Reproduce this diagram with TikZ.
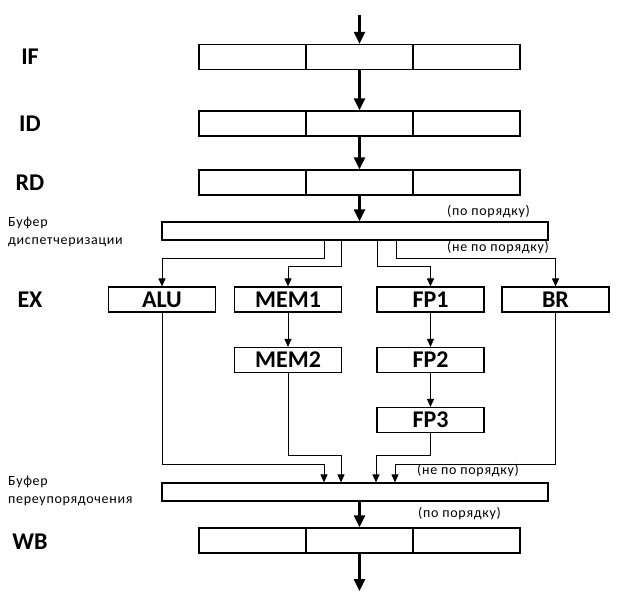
\documentclass[tikz,border=0pt]{standalone}
\usepackage{fontspec}
\setmainfont{Carlito}
\newfontfamily\notefont[LetterSpace=5]{Carlito}
\usetikzlibrary{arrows.meta,positioning}
\tikzset{
	cell/.style={draw, line width=1.2pt, minimum width=107pt, minimum height=25pt, inner sep=0pt},
	unit/.style={cell, font=\fontsize{24}{24}\selectfont\bfseries},
	buffer/.style={draw, line width=1.2pt, minimum width=386pt, minimum height=18pt, inner sep=0pt},
	stage/.style={font=\fontsize{24}{24}\selectfont\bfseries},
	note/.style={font=\notefont\fontsize{14}{18}\selectfont, inner sep=0pt, align=left},
	bigarrow/.style={line width=2.5pt, -{Triangle[length=12pt,width=11pt]}},
	smallarrow/.style={line width=1pt, -{Triangle[length=8pt,width=7pt]}}
}

\begin{document}
\begin{tikzpicture}[x=1pt,y=-1pt]
	\useasboundingbox (0,0) rectangle (623,606);
	% Pipeline rows
	\foreach \name/\y in {if/57, id/123.5, rd/182.5, wb/540.5} {
		\node[cell] (\name1) at (252.5,\y) {};
		\node[cell] (\name2) at (359.5,\y) {};
		\node[cell] (\name3) at (466.5,\y) {};
	}
	% Stage names
	\node[stage] (lif) at (30,57) {IF};
	\node[stage] (lid) at (30,123.5) {ID};
	\node[stage] (lrd) at (30,183) {RD};
	\node[stage] (lex) at (30,299.5) {EX};
	\node[stage] (lwb) at (30,542) {WB};
	% Buffers
	\node[buffer] (disp) at (355,231) {};
	\node[buffer] (reord) at (355,492) {};
	\node[note, anchor=west] (ldisp) at (8,231.5) {Буфер\\диспетчеризации};
	\node[note, anchor=west] (lreord) at (8,490.5) {Буфер\\переупорядочения};
	\node[note, anchor=west] (inord1) at (447,212) {(по порядку)};
	\node[note, anchor=west] (outord1) at (447,248) {(не по порядку)};
	\node[note, anchor=west] (outord2) at (417,471) {(не по порядку)};
	\node[note, anchor=west] (inord2) at (418,514) {(по порядку)};
	% Execution units
	\node[unit] (alu) at (162,299.5) {ALU};
	\node[unit] (mem1) at (288,299.5) {MEM1};
	\node[unit] (fp1) at (430.5,299.5) {FP1};
	\node[unit] (br) at (555.5,299.5) {BR};
	\node[unit] (mem2) at (288,360) {MEM2};
	\node[unit] (fp2) at (430.5,360) {FP2};
	\node[unit] (fp3) at (430.5,420) {FP3};
	% In-order flow
	\coordinate (start) at (359.5,15);
	\coordinate (finish) at (359.5,591);
	\draw[bigarrow] (start) -- (if2.north);
	\draw[bigarrow] (if2.south) -- (id2.north);
	\draw[bigarrow] (id2.south) -- (rd2.north);
	\draw[bigarrow] (rd2.south) -- (rd2.south |- disp.north);
	\draw[bigarrow] (wb2.north |- reord.south) -- (wb2.north);
	\draw[bigarrow] (wb2.south) -- (finish);
	% Issue
	\draw[smallarrow] ([xshift=-31pt]disp.south) -- ++(0,18) -| (alu.north);
	\draw[smallarrow] ([xshift=-14pt]disp.south) -- ++(0,26) -| (mem1.north);
	\draw[smallarrow] ([xshift=22pt]disp.south) -- ++(0,26) -| (fp1.north);
	\draw[smallarrow] ([xshift=41pt]disp.south) -- ++(0,18) -| (br.north);
	\draw[smallarrow] (mem1) -- (mem2);
	\draw[smallarrow] (fp1) -- (fp2);
	\draw[smallarrow] (fp2) -- (fp3);
	% Completion
	\draw[smallarrow] (alu.south) -- ++(0,152) -| ([xshift=-31pt]reord.north);
	\draw[smallarrow] (mem2.south) -- ++(0,82) -| ([xshift=-14pt]reord.north);
	\draw[smallarrow] (fp3.south) -- ++(0,22) -| ([xshift=21pt]reord.north);
	\draw[smallarrow] (br.south) -- ++(0,152) -| ([xshift=40pt]reord.north);
\end{tikzpicture}
\end{document}
